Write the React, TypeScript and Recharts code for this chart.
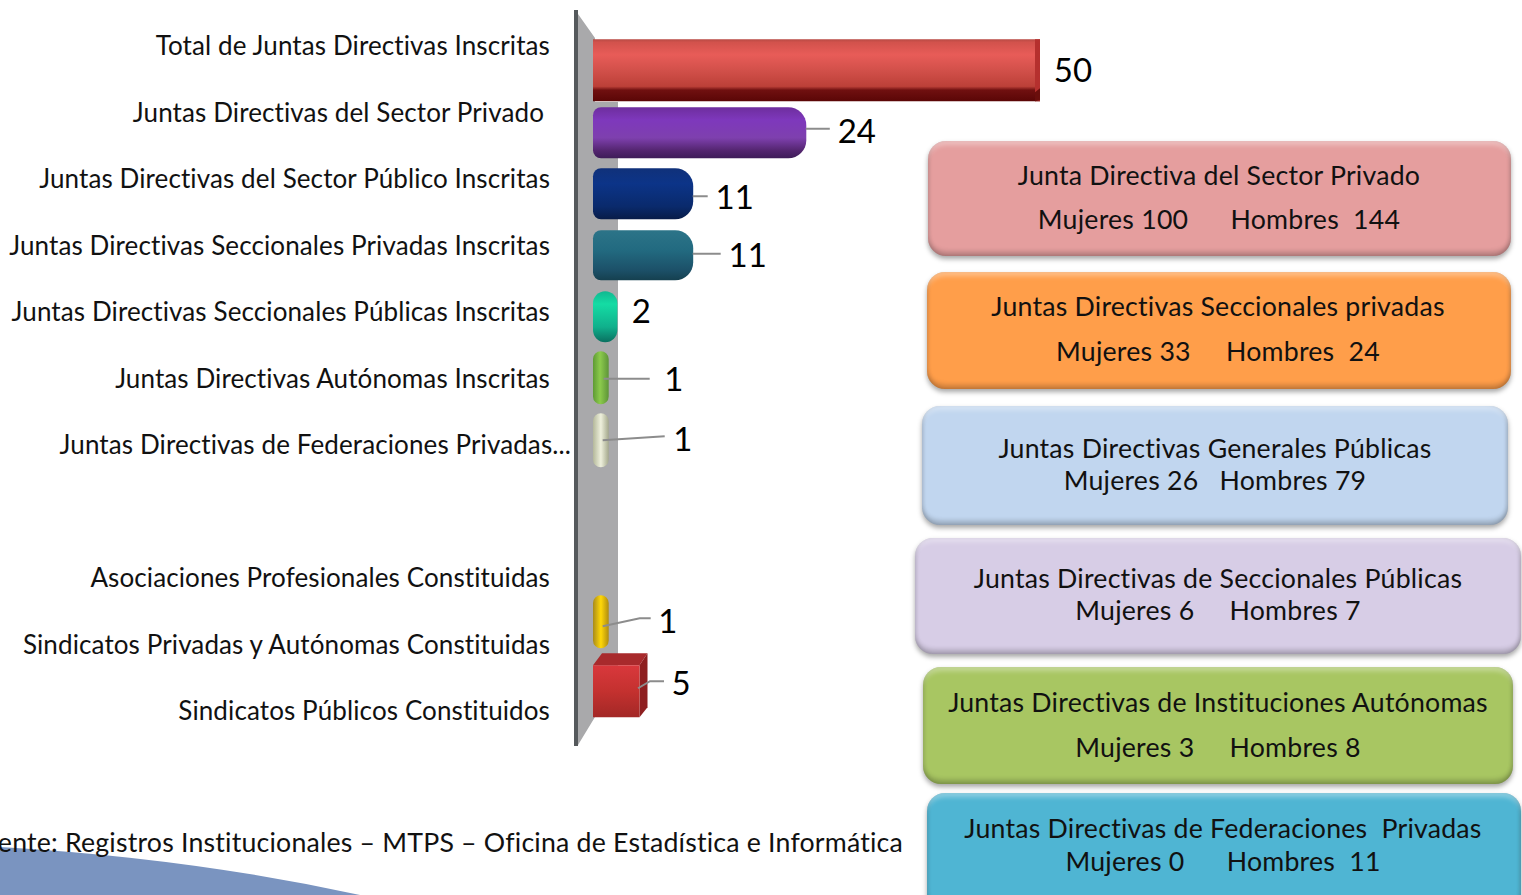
// App.tsx - Juntas Directivas chart, pseudo-3D bars plus info boxes on the right
import { BarChart, Bar, XAxis, YAxis, LabelList, Rectangle } from 'recharts'

const FONT = 'Lato, sans-serif'
const NO_LIGA = { fontVariantLigatures: 'none' } as const

const categories = [
  'Total de Juntas Directivas Inscritas',
  'Juntas Directivas del Sector Privado',
  'Juntas Directivas del Sector Público Inscritas',
  'Juntas Directivas Seccionales Privadas Inscritas',
  'Juntas Directivas Seccionales Públicas Inscritas',
  'Juntas Directivas Autónomas Inscritas',
  'Juntas Directivas de Federaciones Privadas...',
  '',
  'Asociaciones Profesionales Constituidas',
  'Sindicatos Privadas y Autónomas Constituidas',
  'Sindicatos Públicos Constituidos',
]
const values: (number | null)[] = [50, 24, 11, 11, 2, 1, 1, null, null, 1, 5]

const boxTitles = [
  'Junta Directiva del Sector Privado',
  'Juntas Directivas Seccionales privadas',
  'Juntas Directivas Generales Públicas',
  'Juntas Directivas de Seccionales Públicas',
  'Juntas Directivas de Instituciones Autónomas',
  'Juntas Directivas de Federaciones  Privadas',
]
const boxCounts = [
  'Mujeres 100      Hombres  144',
  'Mujeres 33     Hombres  24',
  'Mujeres 26   Hombres 79',
  'Mujeres 6     Hombres 7',
  'Mujeres 3     Hombres 8',
  'Mujeres 0      Hombres  11',
]
const source = 'Fuente: Registros Institucionales – MTPS – Oficina de Estadística e Informática'

// row keeps the position in categories, recharts drops empty bars and renumbers the rest
const data = categories.map((name, i) => ({ name, value: values[i], row: i }))

// look of each row, same order as categories
const LABEL_RIGHT = [550, 544, 550, 550, 550, 550, 571, 550, 550, 550, 550]
const BAR_LOOK: any[] = [
  { kind: 'box', fill: 'gRed', h: 62, dy: 0 },
  { kind: 'pill', fill: 'gPurple', h: 51, dy: 1 },
  { kind: 'pill', fill: 'gNavy', h: 51, dy: 0.5 },
  { kind: 'pill', fill: 'gTeal', h: 50, dy: 0.5 },
  { kind: 'pill', fill: 'gMint', h: 51, dy: 0.5 },
  { kind: 'pill', fill: 'gGreen', h: 53, dy: 0 },
  { kind: 'pill', fill: 'gCream', h: 54, dy: 1 },
  null,
  null,
  { kind: 'pill', fill: 'gYellow', h: 53, dy: -2 },
  { kind: 'cube', fill: 'gCube', h: 52, dy: 6 },
]
// value label centre and leader line, relative to the bar end / row centre
const VALUE_LOOK: any[] = [
  { dx: 38, dy: -1, line: null },
  { dx: 48, dy: -2, line: [[-3, -3], [21, -3]] },
  { dx: 39, dy: 3, line: [[-3, 3], [12, 3]] },
  { dx: 52, dy: -1, line: [[-3, -1], [25, -1]] },
  { dx: 24, dy: -6, line: null },
  { dx: 65, dy: 0.5, line: [[-5, 1], [41, 1]] },
  { dx: 74, dy: -1, line: [[-6, 1], [56, -3]] },
  null,
  null,
  { dx: 59, dy: -3.5, line: [[-6, 2.5], [31, -5.5], [42, -5.5]] },
  { dx: 37.5, dy: -3, line: [[-5.5, 3], [6.5, -4], [20.5, -4]] },
]
const BOX_LOOK = [
  { x: 928, y: 141, w: 583, h: 115, bg: '#E59E9E', cx: 1219, y1: 176, y2: 220 },
  { x: 927, y: 272, w: 584, h: 117, bg: '#FF9E4A', cx: 1218, y1: 307, y2: 352 },
  { x: 922, y: 406, w: 586, h: 119, bg: '#C1D6EF', cx: 1215, y1: 449, y2: 481 },
  { x: 915, y: 538, w: 606, h: 116, bg: '#D7CDE6', cx: 1218, y1: 579, y2: 611 },
  { x: 923, y: 667, w: 590, h: 117, bg: '#A8C662', cx: 1218, y1: 703, y2: 748 },
  { x: 927, y: 793, w: 594, h: 120, bg: '#4FB5D3', cx: 1223, y1: 829, y2: 862 },
]

const BAR_START = 7 // bars begin a little left of the zero line, on the wall

function grad(id: string, stops: [number, string][], horizontal = false) {
  return (
    <linearGradient key={id} id={id} x1="0" y1="0" x2={horizontal ? '1' : '0'} y2={horizontal ? '0' : '1'}>
      {stops.map(([o, c]) => <stop key={o} offset={o} stopColor={c} />)}
    </linearGradient>
  )
}

function BarMark(props: any) {
  const { x, y, width, height, payload } = props
  const look = BAR_LOOK[payload.row]
  if (!look) return null
  const cy = y + height / 2 + look.dy
  const top = cy - look.h / 2
  const left = x - BAR_START
  const right = x + width

  if (look.kind === 'box') {
    return (
      <g>
        <rect x={left} y={top} width={right - left + 5} height={look.h} fill={`url(#${look.fill})`} />
        <rect x={right} y={top} width={5} height={look.h} fill="#B5302E" />
        <polygon points={`${right},${top + look.h - 9} ${right + 5},${top + look.h - 13} ${right + 5},${top + look.h - 1} ${right},${top + look.h}`} fill="#6A0E0C" />
      </g>
    )
  }
  if (look.kind === 'cube') {
    const fr = right - 4
    return (
      <g>
        <polygon points={`${left},${top} ${left + 9},${top - 12} ${fr + 8},${top - 12} ${fr},${top}`} fill="#A82A2C" />
        <polygon points={`${fr},${top} ${fr + 8},${top - 12} ${fr + 8},${top + look.h - 10} ${fr},${top + look.h}`} fill="#8E1F20" />
        <rect x={left} y={top} width={fr - left} height={look.h} fill={`url(#${look.fill})`} />
      </g>
    )
  }
  const long = right - left > 40
  const w = right - left - (long ? 2.5 : 0)
  // long bars keep a nearly flat end against the wall, short ones are full pills
  const r = long ? [8, 18, 18, 8] : [w / 2, w / 2, w / 2, w / 2]
  return <Rectangle x={left} y={top} width={w} height={look.h} radius={r as any} fill={`url(#${look.fill})`} />
}

function ValueMark(props: any) {
  const { x, y, width, height, value: row } = props
  const look = VALUE_LOOK[row]
  if (!look) return null
  const ex = x + width
  const cy = y + height / 2
  return (
    <g>
      {look.line && (
        <polyline
          points={look.line.map(([a, b]: number[]) => `${ex + a},${cy + b}`).join(' ')}
          fill="none"
          stroke="#8C8C8C"
          strokeWidth={2}
        />
      )}
      <text x={ex + look.dx} y={cy + look.dy} textAnchor="middle" dominantBaseline="central" fontFamily={FONT} fontSize={33} fill="#000">
        {values[row]}
      </text>
    </g>
  )
}

function CategoryTick(props: any) {
  const { y, payload, index } = props
  return (
    <text
      x={LABEL_RIGHT[index]}
      y={y - 1}
      textAnchor="end"
      dominantBaseline="central"
      fontFamily={FONT}
      fontSize={26}
      letterSpacing={0.11}
      fill="#111"
      style={NO_LIGA}
    >
      {payload.value}
    </text>
  )
}

export default function App() {
  return (
    <div style={{ position: 'absolute', left: 0, top: 0, width: 1522, height: 895, overflow: 'hidden', background: '#fff' }}>
      {/* wall behind the bars and the blue corner */}
      <svg width={1522} height={895} style={{ position: 'absolute', left: 0, top: 0 }}>
        <path d="M0,847 Q190,858 360,895 L0,895 Z" fill="#7A94C0" />
        <polygon points="578,14 595,38 595,102 618,102 618,700 595,717 578,745" fill="#A9A9AB" />
        <rect x={574} y={10} width={4} height={736} fill="#55595C" />
        <text x={903} y={842} textAnchor="end" dominantBaseline="central" fontFamily={FONT} fontSize={26.7} letterSpacing={0.2} fill="#111" style={NO_LIGA}>
          {source}
        </text>
      </svg>

      <div style={{ position: 'absolute', left: 0, top: 0 }}>
        <BarChart
          width={1522}
          height={895}
          layout="vertical"
          data={data}
          margin={{ top: 12.75, right: 487, bottom: 150.75, left: 0 }}
        >
          <defs>
            {grad('gRed', [[0, '#B84A44'], [0.05, '#D2524C'], [0.25, '#E85C58'], [0.5, '#D2504A'], [0.76, '#BC4038'], [0.82, '#701010'], [1, '#5A0606']])}
            {grad('gPurple', [[0, '#6E2E9E'], [0.25, '#7E38BC'], [0.6, '#7E40AE'], [0.85, '#53256F'], [1, '#3E1C58']])}
            {grad('gNavy', [[0, '#10317A'], [0.3, '#0C3488'], [0.75, '#0A2A6C'], [1, '#081C48']])}
            {grad('gTeal', [[0, '#2C7488'], [0.4, '#226A80'], [0.8, '#1C5068'], [1, '#15404F']])}
            {grad('gMint', [[0, '#10B890'], [0.25, '#14DCA4'], [0.7, '#10B08C'], [1, '#0A7060']])}
            {grad('gGreen', [[0, '#5E9A34'], [0.45, '#8CCB4C'], [1, '#5E9438']], true)}
            {grad('gCream', [[0, '#B4B89A'], [0.5, '#EEF0DC'], [1, '#A4A88C']], true)}
            {grad('gYellow', [[0, '#A88A1A'], [0.5, '#FFD808'], [1, '#B08C10']], true)}
            {grad('gCube', [[0, '#D9383C'], [0.5, '#C4312F'], [1, '#A32826']])}
          </defs>
          <XAxis type="number" domain={[0, 50]} hide />
          <YAxis
            yAxisId="labels"
            type="category"
            dataKey="name"
            width={600}
            axisLine={false}
            tickLine={false}
            interval={0}
            tick={CategoryTick}
          />
          <YAxis
            yAxisId="bars"
            type="category"
            dataKey="name"
            hide
            padding={{ top: 26.5, bottom: 28.5 }}
          />
          <Bar
            yAxisId="bars"
            dataKey="value"
            barSize={40}
            shape={BarMark}
            isAnimationActive={false}
          >
            <LabelList dataKey="row" content={ValueMark} />
          </Bar>
        </BarChart>
      </div>

      {/* info boxes */}
      {BOX_LOOK.map((b, i) => (
        <div key={i}>
          <div
            style={{
              position: 'absolute', left: b.x, top: b.y, width: b.w, height: b.h,
              background: b.bg, borderRadius: 18,
              boxShadow: '0 3px 5px rgba(0,0,0,0.35), inset 0 6px 5px -2px rgba(255,255,255,0.35), inset 0 -5px 5px -1px rgba(0,0,0,0.22), inset 3px 0 4px -2px rgba(0,0,0,0.12), inset -3px 0 4px -2px rgba(0,0,0,0.18)',
            }}
          />
          {[[boxTitles[i], b.y1], [boxCounts[i], b.y2]].map(([t, y]) => (
            <div
              key={String(y)}
              style={{
                position: 'absolute', left: b.cx - 320, width: 640, top: (y as number) - 19, height: 36, lineHeight: '36px',
                textAlign: 'center', whiteSpace: 'pre', fontFamily: FONT, fontSize: 26.7, letterSpacing: 0.22, color: '#111', ...NO_LIGA,
              }}
            >
              {t}
            </div>
          ))}
        </div>
      ))}
    </div>
  )
}
